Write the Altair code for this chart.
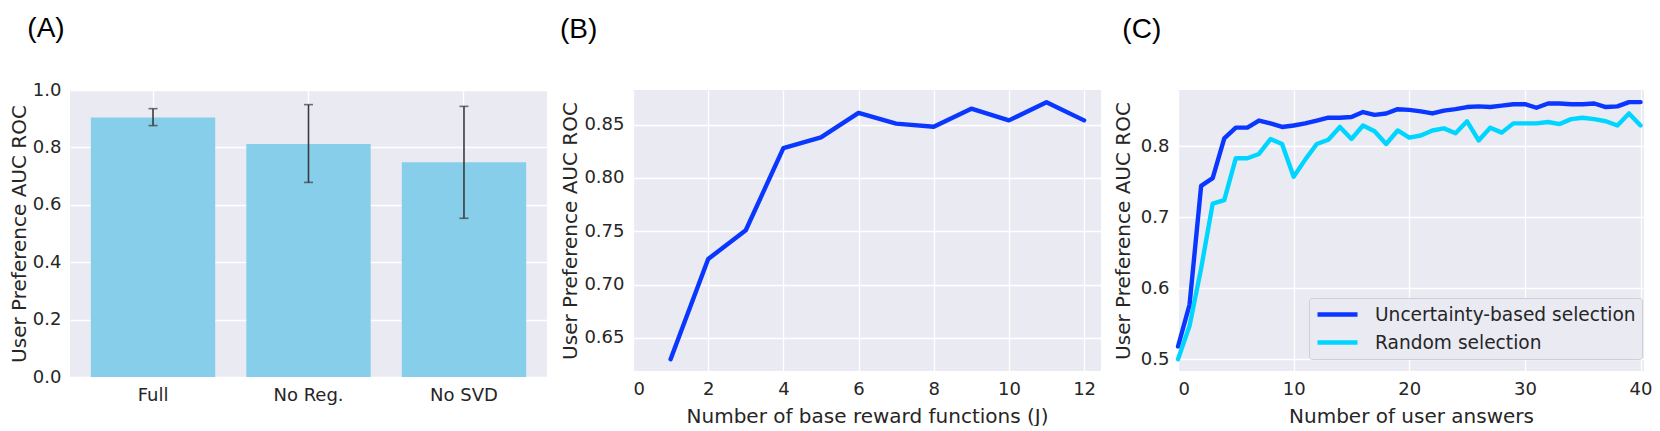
import altair as alt
import pandas as pd

# ---------------- data ----------------
categories = ["Full", "No Reg.", "No SVD"]
bar_values = [0.904, 0.812, 0.748]
err_low = [0.876, 0.678, 0.553]
err_high = [0.935, 0.949, 0.943]

num_base_functions = [1, 2, 3, 4, 5, 6, 7, 8, 9, 10, 11, 12]
auc_by_j = [0.630, 0.724, 0.751, 0.828, 0.838, 0.861, 0.851, 0.848, 0.865, 0.854, 0.871, 0.854]

num_answers = list(range(0, 41))
auc_uncertainty = [0.518, 0.577, 0.744, 0.755, 0.811, 0.826, 0.826, 0.836, 0.832, 0.827,
                   0.829, 0.832, 0.836, 0.840, 0.840, 0.841, 0.848, 0.844, 0.846, 0.852,
                   0.851, 0.849, 0.846, 0.850, 0.852, 0.855, 0.856, 0.855, 0.857, 0.859,
                   0.859, 0.854, 0.860, 0.860, 0.859, 0.859, 0.860, 0.855, 0.856, 0.862,
                   0.862]
auc_random = [0.500, 0.547, 0.628, 0.719, 0.724, 0.783, 0.783, 0.789, 0.810, 0.803,
              0.757, 0.781, 0.803, 0.809, 0.827, 0.810, 0.829, 0.821, 0.803, 0.822,
              0.812, 0.815, 0.822, 0.825, 0.818, 0.835, 0.808, 0.826, 0.819, 0.832,
              0.832, 0.832, 0.834, 0.831, 0.838, 0.840, 0.838, 0.835, 0.829, 0.846,
              0.829]
series_names = ["Uncertainty-based selection", "Random selection"]
series_colors = ["#0a37ff", "#00d5ff"]

panel_labels = ["(A)", "(B)", "(C)"]
y_title = "User Preference AUC ROC"

# ---------------- style ----------------
FONT = "DejaVu Sans"
TXT = "#262626"
LINE_BLUE = series_colors[0]


def panel_title(text, dx, offset):
    return alt.TitleParams(text, anchor="start", frame="bounds", font="Liberation Sans",
                           fontSize=28, fontWeight="normal", color="black",
                           baseline="alphabetic", offset=offset, dx=dx)


# ---------------- panel A ----------------
dfA = pd.DataFrame({"method": categories, "auc": bar_values, "lo": err_low, "hi": err_high})

xA = alt.X("method:N", sort=categories, title=None,
           scale=alt.Scale(paddingInner=0.2, paddingOuter=0.134),
           axis=alt.Axis(labelAngle=0, bandPosition=0.5, grid=True))
yA_scale = alt.Scale(domain=[0, 1.0], nice=False, zero=True)

bars = alt.Chart(dfA).mark_bar(color="#87ceeb").encode(
    x=xA,
    y=alt.Y("auc:Q", scale=yA_scale, title=y_title,
            axis=alt.Axis(values=[0, 0.2, 0.4, 0.6, 0.8, 1.0], format=".1f")),
)
err_rule = alt.Chart(dfA).mark_rule(color="#3a3a3a", strokeWidth=1.6).encode(
    x=alt.X("method:N", sort=categories),
    y=alt.Y("lo:Q", scale=yA_scale),
    y2="hi:Q",
)
cap_lo = alt.Chart(dfA).mark_tick(color="#3a3a3a", thickness=1.6, size=9, orient="horizontal").encode(
    x=alt.X("method:N", sort=categories),
    y=alt.Y("lo:Q", scale=yA_scale),
)
cap_hi = alt.Chart(dfA).mark_tick(color="#3a3a3a", thickness=1.6, size=9, orient="horizontal").encode(
    x=alt.X("method:N", sort=categories),
    y=alt.Y("hi:Q", scale=yA_scale),
)
panelA = alt.layer(bars, err_rule, cap_lo, cap_hi).properties(
    width=477, height=287, title=panel_title(panel_labels[0], 18, 16)
)

# ---------------- panel B ----------------
dfB = pd.DataFrame({"J": num_base_functions, "auc": auc_by_j})
panelB = alt.Chart(dfB).mark_line(color=LINE_BLUE, strokeWidth=4.4, strokeCap="round",
                                  strokeJoin="round").encode(
    x=alt.X("J:Q", title="Number of base reward functions (J)",
            scale=alt.Scale(domain=[0, 12.45], nice=False, zero=False),
            axis=alt.Axis(values=[0, 2, 4, 6, 8, 10, 12], format="d", titlePadding=8)),
    y=alt.Y("auc:Q", title=y_title,
            scale=alt.Scale(domain=[0.619, 0.8825], nice=False, zero=False),
            axis=alt.Axis(values=[0.65, 0.70, 0.75, 0.80, 0.85], format=".2f")),
).properties(width=468, height=281, title=panel_title(panel_labels[1], -1, 24))

# ---------------- panel C ----------------
rows = []
for name, vals in zip(series_names, [auc_uncertainty, auc_random]):
    for n, v in zip(num_answers, vals):
        rows.append({"answers": n, "auc": v, "method": name})
dfC = pd.DataFrame(rows)

panelC = alt.Chart(dfC).mark_line(strokeWidth=4.4, strokeCap="round", strokeJoin="round").encode(
    x=alt.X("answers:Q", title="Number of user answers",
            scale=alt.Scale(domain=[0, 40.3], nice=False, zero=False),
            axis=alt.Axis(values=[0, 10, 20, 30, 40], format="d", titlePadding=8)),
    y=alt.Y("auc:Q", title=y_title,
            scale=alt.Scale(domain=[0.4835, 0.879], nice=False, zero=False),
            axis=alt.Axis(values=[0.5, 0.6, 0.7, 0.8], format=".1f", titlePadding=7)),
    color=alt.Color("method:N", sort=series_names,
                    scale=alt.Scale(domain=series_names, range=series_colors),
                    legend=alt.Legend(title=None, orient="none", legendX=131, legendY=208,
                                      symbolType="M-2.5,0H2.5", symbolSize=256,
                                      symbolStrokeWidth=4.4, symbolOffset=12,
                                      labelFont=FONT, labelFontSize=18.6, labelColor=TXT,
                                      labelLimit=500, labelOffset=27, fillColor="#eaeaf2",
                                      strokeColor="#cfcfd8", cornerRadius=3, padding=6,
                                      rowPadding=7)),
    order=alt.Order("answers:Q"),
).properties(width=466, height=281, title=panel_title(panel_labels[2], 9, 24))

chart = alt.hconcat(panelA, panelB, panelC, spacing=12).resolve_legend(
    color="independent"
).resolve_scale(color="independent").properties(
    padding={"left": 1, "top": 7, "right": 0, "bottom": 0}
).configure(background="white").configure_view(
    fill="#eaeaf2", strokeWidth=0
).configure_axis(
    labelFont=FONT, labelFontSize=18, labelColor=TXT,
    titleFont=FONT, titleFontSize=20, titleFontWeight="normal", titleColor=TXT,
    domain=False, ticks=False, tickSize=0, labelPadding=9, titlePadding=3,
    gridColor="white", gridWidth=1.3, gridOpacity=1,
)

chart.save("out.html", embed_options={"renderer": "svg", "actions": False})
